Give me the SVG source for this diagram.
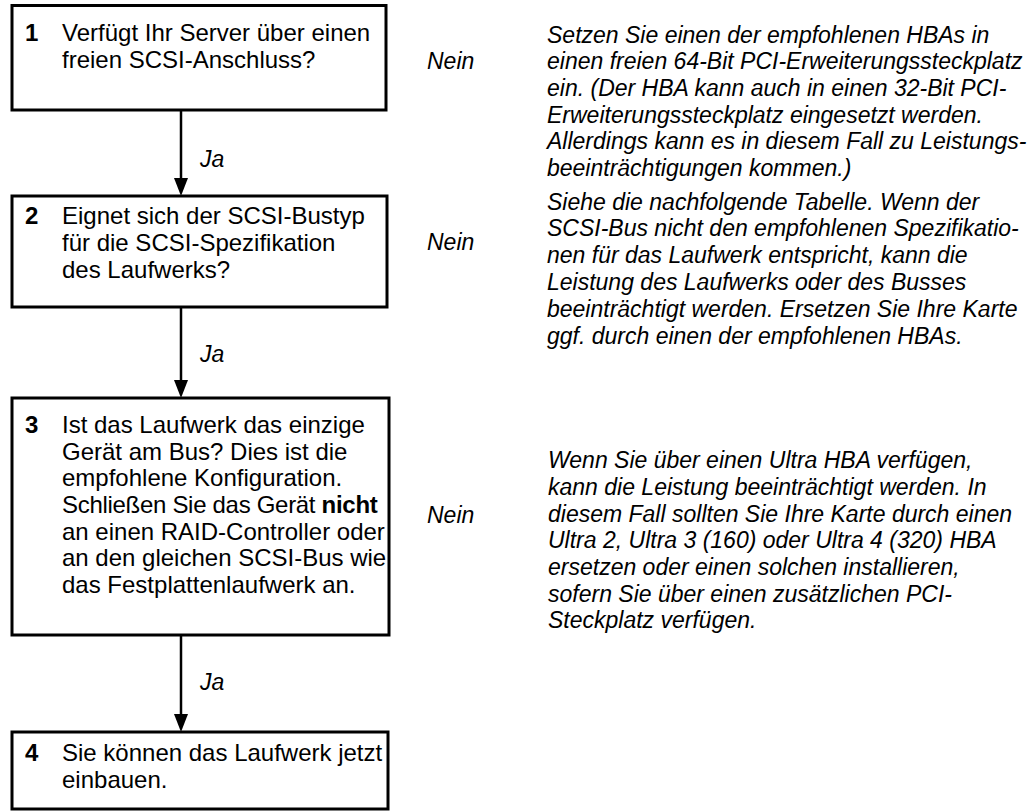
<svg xmlns="http://www.w3.org/2000/svg" width="1029" height="812" viewBox="0 0 1029 812">
<style>
.box{fill:#fff;stroke:#000;stroke-width:3}
.t{font-family:"Liberation Sans",Arial,sans-serif;font-size:24px;fill:#000}
.n{font-weight:bold}
.i{font-family:"Liberation Sans",Arial,sans-serif;font-size:23px;font-style:italic;fill:#000}
.c{stroke:#000;stroke-width:2.5;fill:none}
</style>
<rect width="1029" height="812" fill="#fff"/>
<g id="connectors">
<line class="c" x1="181" y1="111" x2="181" y2="179"/><path d="M174,178 L188,178 L181,196 Z"/>
<line class="c" x1="181" y1="308" x2="181" y2="381"/><path d="M174,380 L188,380 L181,398 Z"/>
<line class="c" x1="181" y1="636" x2="181" y2="715"/><path d="M174,714 L188,714 L181,732 Z"/>
<text class="i" x="200" y="167">Ja</text>
<text class="i" x="200" y="362">Ja</text>
<text class="i" x="200" y="690">Ja</text>
<text class="i" x="427" y="69">Nein</text>
<text class="i" x="427" y="250">Nein</text>
<text class="i" x="427" y="523">Nein</text>
</g>
<g id="node1">
<rect class="box" x="12" y="5.5" width="374" height="104.5"/>
<text class="t n" x="25" y="41">1</text>
<text class="t" x="62" y="41">Verfügt Ihr Server über einen</text>
<text class="t" x="62" y="68">freien SCSI-Anschluss?</text>
</g>
<g id="node2">
<rect class="box" x="12" y="196" width="375" height="111"/>
<text class="t n" x="25" y="224">2</text>
<text class="t" x="62" y="224">Eignet sich der SCSI-Bustyp</text>
<text class="t" x="62" y="251">für die SCSI-Spezifikation</text>
<text class="t" x="62" y="278">des Laufwerks?</text>
</g>
<g id="node3">
<rect class="box" x="12" y="398" width="377" height="237"/>
<text class="t n" x="25" y="433">3</text>
<text class="t" x="62" y="433">Ist das Laufwerk das einzige</text>
<text class="t" x="62" y="460">Gerät am Bus? Dies ist die</text>
<text class="t" x="62" y="486">empfohlene Konfiguration.</text>
<text class="t" x="62" y="513" letter-spacing="-0.3">Schließen Sie das Gerät <tspan class="n">nicht</tspan></text>
<text class="t" x="62" y="540">an einen RAID-Controller oder</text>
<text class="t" x="62" y="566">an den gleichen SCSI-Bus wie</text>
<text class="t" x="62" y="593">das Festplattenlaufwerk an.</text>
</g>
<g id="node4">
<rect class="box" x="12" y="732" width="376" height="77"/>
<text class="t n" x="25" y="761">4</text>
<text class="t" x="62" y="761">Sie können das Laufwerk jetzt</text>
<text class="t" x="62" y="788">einbauen.</text>
</g>
<g id="note1">
<text class="i" x="547" y="43">Setzen Sie einen der empfohlenen HBAs in</text>
<text class="i" x="547" y="69">einen freien 64-Bit PCI-Erweiterungssteckplatz</text>
<text class="i" x="547" y="96">ein. (Der HBA kann auch in einen 32-Bit PCI-</text>
<text class="i" x="547" y="123">Erweiterungssteckplatz eingesetzt werden.</text>
<text class="i" x="547" y="149">Allerdings kann es in diesem Fall zu Leistungs-</text>
<text class="i" x="547" y="176">beeinträchtigungen kommen.)</text>
</g>
<g id="note2">
<text class="i" x="547" y="210">Siehe die nachfolgende Tabelle. Wenn der</text>
<text class="i" x="547" y="236">SCSI-Bus nicht den empfohlenen Spezifikatio-</text>
<text class="i" x="547" y="263">nen für das Laufwerk entspricht, kann die</text>
<text class="i" x="547" y="290">Leistung des Laufwerks oder des Busses</text>
<text class="i" x="547" y="317">beeinträchtigt werden. Ersetzen Sie Ihre Karte</text>
<text class="i" x="547" y="344">ggf. durch einen der empfohlenen HBAs.</text>
</g>
<g id="note3">
<text class="i" x="548" y="468">Wenn Sie über einen Ultra HBA verfügen,</text>
<text class="i" x="548" y="495">kann die Leistung beeinträchtigt werden. In</text>
<text class="i" x="548" y="522">diesem Fall sollten Sie Ihre Karte durch einen</text>
<text class="i" x="548" y="548">Ultra 2, Ultra 3 (160) oder Ultra 4 (320) HBA</text>
<text class="i" x="548" y="575">ersetzen oder einen solchen installieren,</text>
<text class="i" x="548" y="602">sofern Sie über einen zusätzlichen PCI-</text>
<text class="i" x="548" y="628">Steckplatz verfügen.</text>
</g>
</svg>
